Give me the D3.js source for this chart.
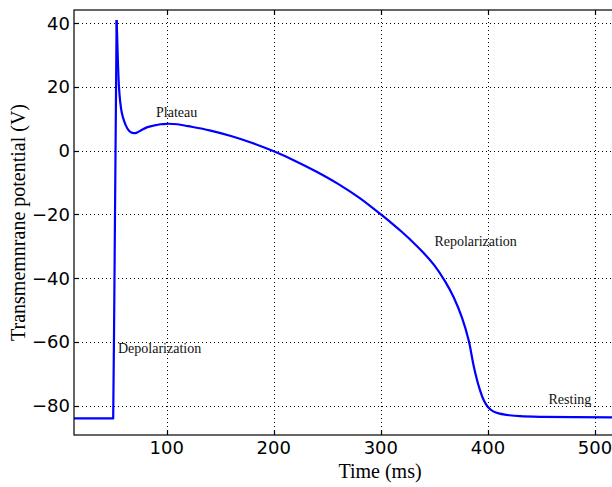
<!DOCTYPE html>
<html>
<head>
<meta charset="utf-8">
<script src="https://cdn.jsdelivr.net/npm/d3@7"></script>
<style>
  body { margin: 0; background: #fff; }
  svg { display: block; }
</style>
</head>
<body>
<div id="chart"></div>
<script>
// action potential

// upstroke: resting level, then straight up to the spike
const upTime = [13, 50, 50.8, 53.2];
const upPot = [-84, -84, -57, 41];

// spike decay, plateau, repolarization, back to rest
const timeMs = [53.2, 53.8, 54.5, 55.4, 56.5, 58, 60, 62, 64, 66, 68, 70.5, 73, 77, 82, 88, 94, 100,
  110, 120, 140, 160, 180, 200, 220, 240, 260, 280, 300, 310, 320, 330, 340, 350, 360, 368, 376, 382,
  387, 392, 396, 400, 405, 411, 420, 430, 450, 480, 520, 590];
const potential = [41, 35, 27, 20, 15.5, 12, 9.5, 7.8, 6.6, 5.9, 5.6, 5.5, 5.8, 6.6, 7.4, 7.9, 8.3, 8.45,
  8.3, 7.7, 6.4, 4.6, 2.4, -0.2, -3.2, -6.6, -10.4, -14.8, -20, -22.7, -25.6, -28.7, -32.1, -36.0, -41.0, -46.0, -52.6, -59.5,
  -68.0, -74.5, -78.2, -80.4, -81.8, -82.5, -83, -83.3, -83.5, -83.6, -83.7, -83.7];

const xTicks = [100, 200, 300, 400, 500];
const yTicks = [-80, -60, -40, -20, 0, 20, 40];

const labelText = ["Plateau", "Depolarization", "Repolarization", "Resting"];
const labelTime = [90, 54.5, 350, 456.6];
const labelPot = [10.7, -63.6, -29.9, -79.5];

const width = 612, height = 487;
const plotL = 74, plotT = 10, plotR = 686, plotB = 435;

const x = d3.scaleLinear().domain([13.4, 585]).range([plotL, plotR]);
const y = d3.scaleLinear().domain([-89.2, 44.15]).range([plotB, plotT]);

const svg = d3.select("#chart").append("svg")
  .attr("width", width).attr("height", height);

svg.append("defs").append("clipPath").attr("id", "plot")
  .append("rect").attr("x", plotL).attr("y", plotT)
  .attr("width", plotR - plotL).attr("height", plotB - plotT);

// grid
const grid = svg.append("g")
  .attr("stroke", "#000").attr("stroke-width", 1).attr("stroke-dasharray", "1,3");
grid.selectAll(".gx").data(xTicks).enter().append("line")
  .attr("x1", d => Math.round(x(d)) + 0.5).attr("x2", d => Math.round(x(d)) + 0.5)
  .attr("y1", plotT).attr("y2", plotB);
grid.selectAll(".gy").data(yTicks).enter().append("line")
  .attr("y1", d => Math.round(y(d)) + 0.5).attr("y2", d => Math.round(y(d)) + 0.5)
  .attr("x1", plotL).attr("x2", plotR);

// the trace
const trace = svg.append("g")
  .attr("clip-path", "url(#plot)")
  .attr("fill", "none")
  .attr("stroke", "#0000ff")
  .attr("stroke-width", 2.2)
  .attr("stroke-linejoin", "round");

const upLine = d3.line()
  .x((d, i) => x(upTime[i]))
  .y(d => y(d));
trace.append("path").attr("d", upLine(upPot));

const smooth = d3.line()
  .curve(d3.curveCatmullRom.alpha(0.5))
  .x((d, i) => x(timeMs[i]))
  .y(d => y(d));
trace.append("path").attr("d", smooth(potential));

// spines
svg.append("rect")
  .attr("x", plotL).attr("y", plotT)
  .attr("width", plotR - plotL).attr("height", plotB - plotT)
  .attr("fill", "none").attr("stroke", "#000").attr("stroke-width", 1.2);

// inward ticks, all four sides
const ticks = svg.append("g").attr("stroke", "#000").attr("stroke-width", 1.2);
xTicks.forEach(t => {
  const px = Math.round(x(t)) + 0.5;
  ticks.append("line").attr("x1", px).attr("x2", px).attr("y1", plotB).attr("y2", plotB - 5);
  ticks.append("line").attr("x1", px).attr("x2", px).attr("y1", plotT).attr("y2", plotT + 5);
});
yTicks.forEach(v => {
  const py = Math.round(y(v)) + 0.5;
  ticks.append("line").attr("y1", py).attr("y2", py).attr("x1", plotL).attr("x2", plotL + 5);
  ticks.append("line").attr("y1", py).attr("y2", py).attr("x1", plotR).attr("x2", plotR - 5);
});

const fmt = d => d < 0 ? "\u2212" + Math.abs(d) : String(d);

svg.append("g").selectAll("text").data(xTicks).enter().append("text")
  .attr("x", d => x(d)).attr("y", plotB + 19)
  .attr("text-anchor", "middle")
  .attr("font-family", "DejaVu Sans").attr("font-size", "18px")
  .text(fmt);

svg.append("g").selectAll("text").data(yTicks).enter().append("text")
  .attr("x", plotL - 4).attr("y", d => y(d) + 6.5)
  .attr("text-anchor", "end")
  .attr("font-family", "DejaVu Sans").attr("font-size", "18px")
  .text(fmt);

// axis labels
svg.append("text")
  .attr("x", (plotL + plotR) / 2).attr("y", 478)
  .attr("text-anchor", "middle")
  .attr("font-family", "Liberation Serif").attr("font-size", "20px")
  .text("Time (ms)");

svg.append("text")
  .attr("transform", `translate(25, ${(plotT + plotB) / 2}) rotate(-90)`)
  .attr("text-anchor", "middle")
  .attr("font-family", "Liberation Serif").attr("font-size", "20px")
  .text("Transmemnrane potential (V)");

// phase annotations
svg.append("g").selectAll("text").data(labelText).enter().append("text")
  .attr("x", (d, i) => x(labelTime[i]))
  .attr("y", (d, i) => y(labelPot[i]))
  .attr("font-family", "Liberation Serif").attr("font-size", "14px")
  .attr("fill", "#111")
  .text(d => d);
</script>
</body>
</html>
